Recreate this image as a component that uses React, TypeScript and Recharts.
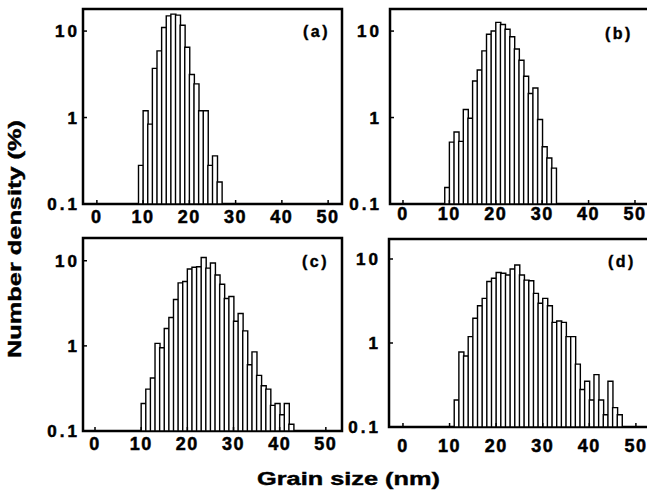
import React from "react";
import { BarChart, Bar, XAxis, YAxis, ReferenceArea } from "recharts";

// grain size bin centres (nm) and number density (%) for each panel
const sizesA = [9.5, 10.5, 11.5, 12.5, 13.5, 14.5, 15.5, 16.5, 17.5, 18.5, 19.5, 20.5, 21.5, 22.5, 23.5, 24.5, 25.5, 26.5];
const densityA = [0.28, 1.2, 0.84, 3.7, 5.9, 11, 15, 15.7, 15.3, 11.7, 6.5, 3.15, 2.45, 1.2, 1.2, 0.28, 0.36, 0.18];

const sizesB = [9.5, 10.5, 11.5, 12.5, 13.5, 14.5, 15.5, 16.5, 17.5, 18.5, 19.5, 20.5, 21.5, 22.5, 23.5, 24.5, 25.5, 26.5, 27.5, 28.5, 29.5, 30.5, 31.5, 32.5];
const densityB = [0.155, 0.52, 0.68, 0.53, 1.24, 0.98, 2.65, 3.55, 5.9, 9.2, 10, 12.6, 11.9, 10.5, 8.6, 6.2, 4.6, 3.0, 1.9, 2.2, 0.95, 0.46, 0.34, 0.26];

const sizesC = [10.5, 11.5, 12.5, 13.5, 14.5, 15.5, 16.5, 17.5, 18.5, 19.5, 20.5, 21.5, 22.5, 23.5, 24.5, 25.5, 26.5, 27.5, 28.5, 29.5, 30.5, 31.5, 32.5, 33.5, 34.5, 35.5, 36.5, 37.5, 38.5, 39.5, 40.5, 41.5, 42.5];
const densityC = [0.21, 0.31, 0.42, 1.07, 0.95, 1.6, 2.15, 3.5, 5.5, 5.7, 8.0, 8.4, 8.5, 10.9, 8.2, 9.4, 6.8, 5.3, 3.6, 3.8, 1.95, 2.4, 1.5, 0.6, 0.85, 0.45, 0.34, 0.31, 0.2, 0.21, 0.155, 0.21, 0.12];

const sizesD = [11.5, 12.5, 13.5, 14.5, 15.5, 16.5, 17.5, 18.5, 19.5, 20.5, 21.5, 22.5, 23.5, 24.5, 25.5, 26.5, 27.5, 28.5, 29.5, 30.5, 31.5, 32.5, 33.5, 34.5, 35.5, 36.5, 37.5, 38.5, 39.5, 40.5, 41.5, 42.5, 43.5, 44.5, 45.5, 46.5];
const densityD = [0.21, 0.78, 0.7, 1.19, 1.97, 2.78, 3.4, 5.4, 5.9, 6.9, 6.76, 6.45, 7.6, 8.5, 6.45, 5.6, 5.5, 3.9, 2.97, 3.4, 2.78, 1.76, 1.83, 1.76, 1.19, 1.19, 0.56, 0.28, 0.35, 0.21, 0.42, 0.21, 0.14, 0.35, 0.17, 0.14];

const xTicks = [0, 10, 20, 30, 40, 50];
const yTicks = [0.1, 1, 10];

const FONT = "'Liberation Sans', Arial, Helvetica, sans-serif";

const toRows = (sizes: number[], vals: number[]) =>
  sizes.map((s, i) => ({ size: s, density: vals[i] }));

type PanelProps = {
  sizes: number[];
  values: number[];
  left: number;
  top: number;
  plotW: number;
  plotH: number;
  xDomain: [number, number];
  yDomain: [number, number];
  yGap: number;
  xDy: number;
};

function Panel({ sizes, values, left, top, plotW, plotH, xDomain, yDomain, yGap, xDy }: PanelProps) {
  const yAxisW = 60;
  const mTop = 6;
  const xAxisH = 40;
  const data = toRows(sizes, values);

  const XTick = (props: any) => {
    const { x, y, payload } = props;
    return (
      <g>
        <line x1={x} x2={x} y1={y} y2={y - 4} stroke="#000" strokeWidth={1.5} />
        <text x={x} y={y + xDy} textAnchor="middle" fontSize={18} fontWeight="bold"
          letterSpacing={1.5} fontFamily={FONT} fill="#000" stroke="#000" strokeWidth={0.5}>
          {payload.value}
        </text>
      </g>
    );
  };

  const YTick = (props: any) => {
    const { x, y, payload } = props;
    return (
      <g>
        <line x1={x} x2={x + 4} y1={y} y2={y} stroke="#000" strokeWidth={1.5} />
        <text x={x - yGap} y={y + 6} textAnchor="end" fontSize={17} fontWeight="bold"
          letterSpacing={3} fontFamily={FONT} fill="#000" stroke="#000" strokeWidth={0.5}>
          {payload.value}
        </text>
      </g>
    );
  };

  return (
    <div style={{ position: "absolute", left: left - yAxisW, top: top - mTop }}>
      <BarChart
        width={yAxisW + plotW + 2}
        height={mTop + plotH + xAxisH}
        data={data}
        margin={{ top: mTop, right: 2, bottom: 0, left: 0 }}
        barCategoryGap={0}
        barGap={0}
      >
        <XAxis
          type="number"
          dataKey="size"
          domain={xDomain}
          allowDataOverflow
          ticks={xTicks}
          interval={0}
          axisLine={false}
          tickLine={false}
          tickSize={0}
          tickMargin={0}
          height={xAxisH}
          tick={<XTick />}
        />
        <YAxis
          scale="log"
          domain={yDomain}
          allowDataOverflow
          ticks={yTicks}
          interval={0}
          axisLine={false}
          tickLine={false}
          tickSize={0}
          tickMargin={0}
          width={yAxisW}
          tick={<YTick />}
        />
        <Bar dataKey="density" fill="#fff" stroke="#000" strokeWidth={1.4} isAnimationActive={false} />
        <ReferenceArea
          x1={xDomain[0]}
          x2={xDomain[1]}
          y1={yDomain[0]}
          y2={yDomain[1]}
          fill="none"
          fillOpacity={0}
          stroke="#000"
          strokeWidth={2.5}
        />
      </BarChart>
    </div>
  );
}

export default function App() {
  return (
    <div
      style={{
        position: "absolute",
        left: 0,
        top: 0,
        width: 647,
        height: 494,
        overflow: "hidden",
        background: "#fff",
        fontFamily: FONT,
      }}
    >
      <Panel sizes={sizesA} values={densityA} left={83} top={9} plotW={259} plotH={195}
        xDomain={[-3, 53]} yDomain={[0.1, 18]} yGap={3} xDy={19} />
      <Panel sizes={sizesB} values={densityB} left={390} top={9} plotW={264} plotH={195}
        xDomain={[-2.8, 54.1]} yDomain={[0.1, 18]} yGap={8} xDy={16} />
      <Panel sizes={sizesC} values={densityC} left={83} top={238} plotW={259} plotH={193}
        xDomain={[-2.6, 53.5]} yDomain={[0.1, 18.5]} yGap={3} xDy={19} />
      <Panel sizes={sizesD} values={densityD} left={389} top={239} plotW={266} plotH={188}
        xDomain={[-3, 54.1]} yDomain={[0.1, 17.3]} yGap={8} xDy={25} />

      <svg width={647} height={494} style={{ position: "absolute", left: 0, top: 0, pointerEvents: "none" }}>
        <g fontFamily={FONT} fontWeight="bold" fill="#000" stroke="#000" strokeWidth={0.4}>
          <text x={303} y={37} fontSize={16} letterSpacing={2.5}>(a)</text>
          <text x={605} y={39} fontSize={16} letterSpacing={2.5}>(b)</text>
          <text x={302} y={267} fontSize={16} letterSpacing={2.5}>(c)</text>
          <text x={608} y={267} fontSize={16} letterSpacing={2.5}>(d)</text>
          <text x={257} y={485} fontSize={18} textLength={183} lengthAdjust="spacingAndGlyphs">
            Grain size (nm)
          </text>
          <text
            transform="translate(21, 358) rotate(-90)"
            x={0}
            y={0}
            fontSize={18}
            textLength={238}
            lengthAdjust="spacingAndGlyphs"
          >
            Number density (%)
          </text>
        </g>
      </svg>
    </div>
  );
}
